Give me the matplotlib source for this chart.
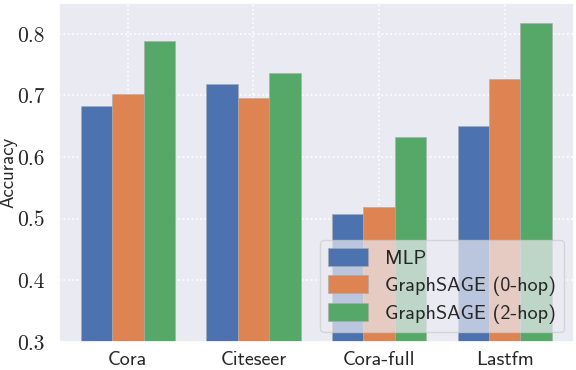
import matplotlib

matplotlib.use("Agg")
import matplotlib.pyplot as plt
import numpy as np
import seaborn as sns

datasets = ["Cora", "Citeseer", "Cora-full", "Lastfm"]
series_names = ["MLP", "GraphSAGE (0-hop)", "GraphSAGE (2-hop)"]
mlp = [0.683, 0.719, 0.508, 0.651]
sage_0hop = [0.702, 0.695, 0.519, 0.727]
sage_2hop = [0.789, 0.737, 0.632, 0.818]
y_ticks = [0.3, 0.4, 0.5, 0.6, 0.7, 0.8]

sns.set_theme(style="darkgrid")
colors = sns.color_palette("deep")[:3]
sans = ["cmss10", "DejaVu Sans"]

fig = plt.figure(figsize=(5.76, 3.70), dpi=100)
ax = fig.add_axes([0.102, 0.076, 0.894, 0.916])

x = np.arange(len(datasets))
width = 0.25
for i, (name, vals) in enumerate(zip(series_names, [mlp, sage_0hop, sage_2hop])):
    ax.bar(x + (i - 1) * width, vals, width, label=name, color=colors[i],
           edgecolor="#aaaaaa", linewidth=0.4)

ax.set_xlim(-0.55, 3.55)
ax.set_ylim(0.3, 0.85)
ax.set_xticks(x)
ax.set_xticklabels(datasets, family=sans, fontsize=14.5)
ax.set_yticks(y_ticks)
ax.set_yticklabels([f"{t:.1f}" for t in y_ticks], family="cmr10", fontsize=15.5)
ax.tick_params(axis="x", pad=0.5)
ax.tick_params(axis="y", pad=4)
ax.set_ylabel("Accuracy", family=sans, fontsize=13.5, labelpad=0)
ax.grid(True, color="white", linestyle=":", linewidth=1.2)
ax.set_axisbelow(True)

leg = ax.legend(loc="lower right", prop={"family": sans, "size": 14.5},
                handlelength=2.0, handleheight=1.0, borderaxespad=0.5,
                frameon=True, framealpha=0.7, labelspacing=0.35)

fig.savefig("out.png", dpi=100)
